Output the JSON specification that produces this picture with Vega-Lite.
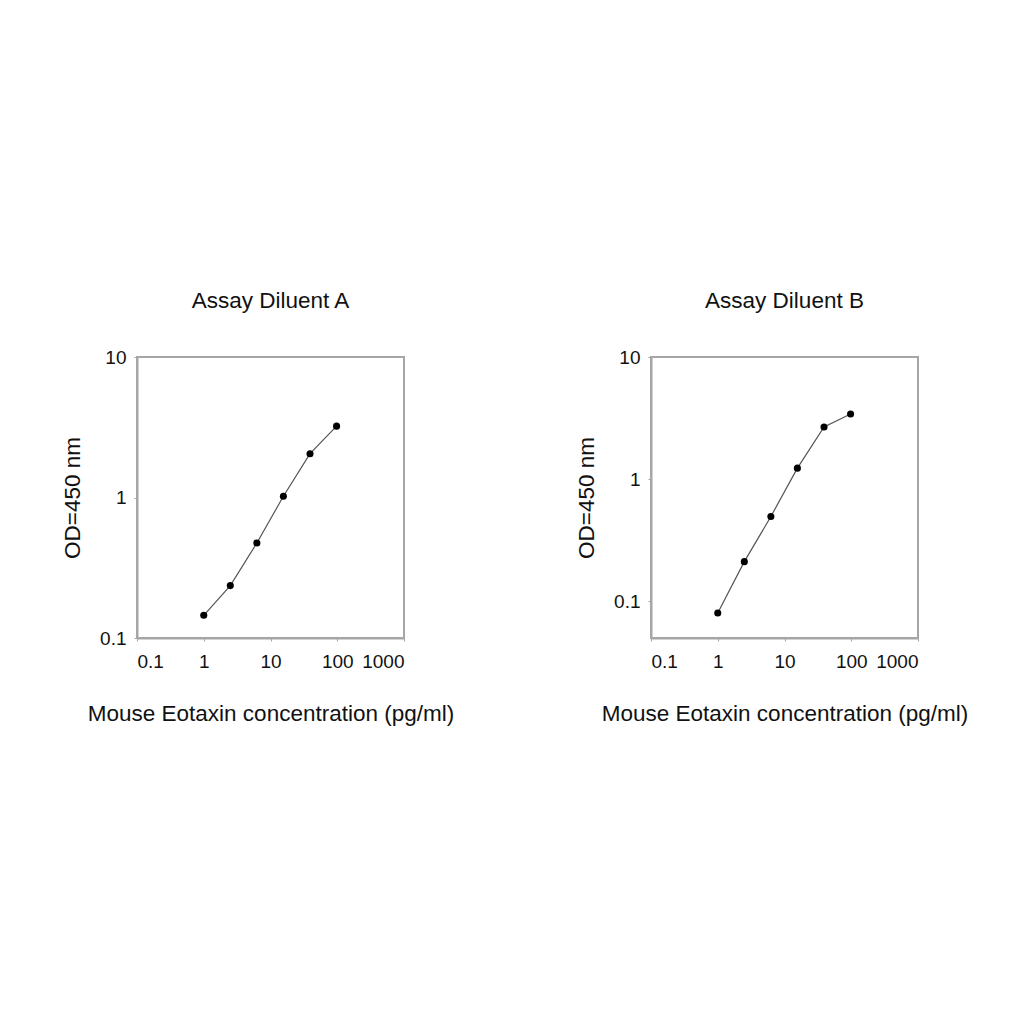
{
  "$schema": "https://vega.github.io/schema/vega-lite/v6.json",
  "autosize": {"type": "pad"},
  "padding": {"left": 60, "top": 288, "right": 5, "bottom": 5},
  "background": "white",
  "bounds": "flush",
  "spacing": 247,
  "datasets": {
    "A": [
      {"conc": 1.0, "od": 0.145},
      {"conc": 2.5, "od": 0.236},
      {"conc": 6.25, "od": 0.475},
      {"conc": 15.6, "od": 1.02},
      {"conc": 39.1, "od": 2.05},
      {"conc": 97.7, "od": 3.22}
    ],
    "B": [
      {"conc": 1.0, "od": 0.080},
      {"conc": 2.5, "od": 0.211},
      {"conc": 6.25, "od": 0.494},
      {"conc": 15.6, "od": 1.23},
      {"conc": 39.1, "od": 2.67},
      {"conc": 97.7, "od": 3.41}
    ]
  },
  "config": {
    "font": "Liberation Sans",
    "view": {"stroke": "#a6a6a6", "strokeWidth": 2},
    "axis": {
      "grid": false,
      "domainColor": "#a6a6a6",
      "domainWidth": 2,
      "tickColor": "#a6a6a6",
      "tickSize": 3,
      "labelFont": "Liberation Sans",
      "labelFontSize": 19,
      "labelColor": "#111",
      "titleFont": "Liberation Sans",
      "titleFontSize": 22.5,
      "titleFontWeight": "normal",
      "titleColor": "#111"
    },
    "axisX": {"labelPadding": 11, "titlePadding": 31},
    "axisY": {"labelPadding": 8, "titlePadding": 15},
    "title": {
      "font": "Liberation Sans",
      "fontSize": 22.5,
      "fontWeight": "normal",
      "color": "#111",
      "anchor": "middle",
      "offset": 36
    }
  },
  "hconcat": [
    {
      "title": "Assay Diluent A",
      "width": 267,
      "height": 281,
      "data": {"name": "A"},
      "layer": [
        {"mark": {"type": "line", "color": "#555", "strokeWidth": 1.2}},
        {"mark": {"type": "point", "filled": true, "color": "#000", "size": 50, "opacity": 1}}
      ],
      "encoding": {
        "x": {
          "field": "conc", "type": "quantitative",
          "scale": {"type": "log", "domain": [0.1, 1000], "nice": false},
          "axis": {"values": [0.1, 1, 10, 100, 1000], "format": "~g", "title": "Mouse Eotaxin concentration (pg/ml)"}
        },
        "y": {
          "field": "od", "type": "quantitative",
          "scale": {"type": "log", "domain": [0.1, 10], "nice": false},
          "axis": {"values": [0.1, 1, 10], "format": "~g", "title": "OD=450 nm"}
        }
      }
    },
    {
      "title": "Assay Diluent B",
      "width": 267,
      "height": 281,
      "data": {"name": "B"},
      "layer": [
        {"mark": {"type": "line", "color": "#555", "strokeWidth": 1.2}},
        {"mark": {"type": "point", "filled": true, "color": "#000", "size": 50, "opacity": 1}}
      ],
      "encoding": {
        "x": {
          "field": "conc", "type": "quantitative",
          "scale": {"type": "log", "domain": [0.1, 1000], "nice": false},
          "axis": {"values": [0.1, 1, 10, 100, 1000], "format": "~g", "title": "Mouse Eotaxin concentration (pg/ml)"}
        },
        "y": {
          "field": "od", "type": "quantitative",
          "scale": {"type": "log", "domain": [0.05, 10], "nice": false},
          "axis": {"values": [0.1, 1, 10], "format": "~g", "title": "OD=450 nm"}
        }
      }
    }
  ]
}
